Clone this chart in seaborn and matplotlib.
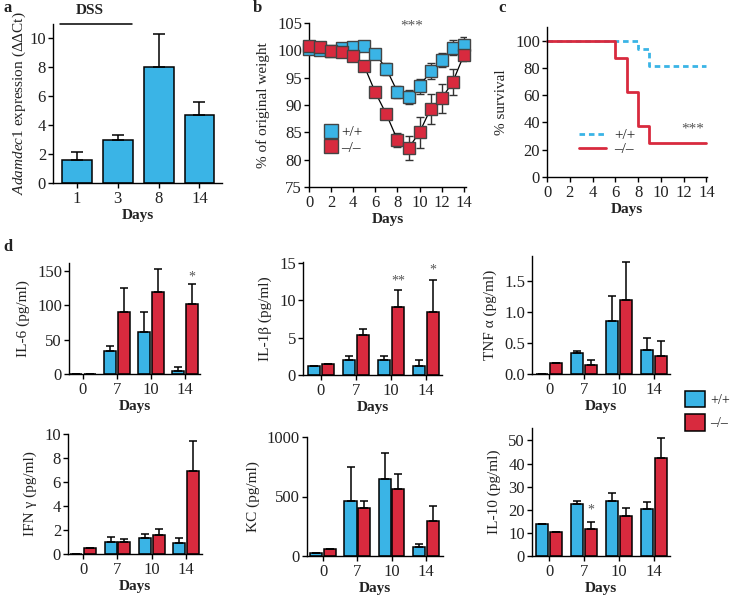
import pandas as pd
import seaborn as sns
import matplotlib.pyplot as plt
from matplotlib.lines import Line2D
from matplotlib.patches import Patch

BLUE = "#3ab4e6"
RED = "#d82a3e"
INK = "#222222"

# ---- panel a: Adamdec1 expression ----
a_days = ["1", "3", "8", "14"]
a_expr = [1.6, 3.0, 8.0, 4.7]
a_err = [0.55, 0.35, 2.3, 0.9]

# ---- panel b: weight curves ----
b_days = list(range(15))
b_wt = [100.2, 100.1, 99.9, 100.5, 100.6, 100.8, 99.4, 96.6, 92.4, 91.5, 93.4, 96.2, 98.2, 100.5, 101.0]
b_wt_err = [0.3, 0.3, 0.3, 0.4, 0.4, 0.5, 0.8, 1.1, 1.1, 1.3, 1.35, 1.4, 1.3, 1.3, 1.5]
b_ko = [100.8, 100.6, 99.9, 99.7, 99.0, 97.1, 92.3, 88.3, 83.6, 82.1, 85.0, 89.3, 91.2, 94.2, 99.1]
b_ko_err = [0.3, 0.3, 0.3, 0.3, 0.4, 0.4, 0.8, 0.8, 1.3, 2.2, 2.8, 2.8, 2.7, 2.4, 1.0]

# ---- panel c: survival ----
c_wt_days = [0, 8, 9, 14]
c_wt = [100, 93.75, 81.25, 81.25]
c_ko_days = [0, 6, 7, 8, 9, 14]
c_ko = [100, 87.5, 62.5, 37.5, 25, 25]

# ---- panel d: cytokines ----
d_days = ["0", "7", "10", "14"]
il6_wt, il6_wt_err = [0, 33, 61, 5], [0, 7.5, 29, 5]
il6_ko, il6_ko_err = [0, 91, 119, 102], [0, 34, 34, 29]
il1b_wt, il1b_wt_err = [1.2, 1.95, 1.95, 1.2], [0, 0.55, 0.55, 0.8]
il1b_ko, il1b_ko_err = [1.46, 5.4, 9.05, 8.4], [0, 0.8, 2.25, 4.3]
tnf_wt, tnf_wt_err = [0, 0.34, 0.85, 0.39], [0, 0.04, 0.41, 0.2]
tnf_ko, tnf_ko_err = [0.18, 0.14, 1.2, 0.285], [0, 0.08, 0.61, 0.245]
ifn_wt, ifn_wt_err = [0, 0.99, 1.3, 0.93], [0, 0.39, 0.33, 0.42]
ifn_ko, ifn_ko_err = [0.5, 1.04, 1.6, 6.9], [0, 0.23, 0.5, 2.54]
kc_wt, kc_wt_err = [28, 458, 646, 73], [0, 286, 219, 28]
kc_ko, kc_ko_err = [56, 404, 562, 292], [0, 54, 129, 124]
il10_wt, il10_wt_err = [13.9, 22.5, 23.6, 20.2], [0, 1.1, 3.7, 3.1]
il10_ko, il10_ko_err = [10.3, 11.6, 17.3, 42.3], [0, 3.1, 3.4, 8.7]

sns.set_style("ticks")
plt.rcParams["font.family"] = ["Liberation Serif", "DejaVu Serif"]
plt.rcParams["mathtext.fontset"] = "custom"
plt.rcParams["mathtext.rm"] = "Liberation Serif"
plt.rcParams["mathtext.it"] = "Liberation Serif:italic"
plt.rcParams["axes.linewidth"] = 1.0
plt.rcParams["axes.edgecolor"] = "black"
plt.rcParams["xtick.color"] = "black"
plt.rcParams["ytick.color"] = "black"
plt.rcParams["xtick.labelcolor"] = INK
plt.rcParams["ytick.labelcolor"] = INK
plt.rcParams["xtick.major.width"] = 1.0
plt.rcParams["ytick.major.width"] = 1.0
plt.rcParams["xtick.major.size"] = 3.5
plt.rcParams["ytick.major.size"] = 3.5
plt.rcParams["xtick.major.pad"] = 2.0
plt.rcParams["ytick.major.pad"] = 1.5
plt.rcParams["xtick.labelsize"] = 12
plt.rcParams["ytick.labelsize"] = 12
plt.rcParams["axes.labelcolor"] = INK

W, H = 731, 597
fig = plt.figure(figsize=(W / 100, H / 100), dpi=100)


def box(l, r, t, b):
    return [l / W, 1 - b / H, (r - l) / W, (b - t) / H]


def days_label(ax):
    ax.set_xlabel("Days", fontsize=11, fontweight="bold", color=INK, labelpad=1.5)


# ---------- a ----------
ax = fig.add_axes(box(53, 222, 24, 183))
sns.barplot(x=a_days, y=a_expr, color=BLUE, edgecolor="black", linewidth=1.1,
            width=0.73, errorbar=None, saturation=1, ax=ax)
bars = sorted(ax.patches, key=lambda p: p.get_x())
ax.errorbar([p.get_x() + p.get_width() / 2 for p in bars], [p.get_height() for p in bars],
            yerr=[[0] * len(bars), a_err], fmt="none", ecolor="black", elinewidth=1.1,
            capsize=4, capthick=1.1, zorder=1)
ax.set_xlim(-0.58, 3.55)
ax.set_ylim(0, 11)
ax.set_yticks([0, 2, 4, 6, 8, 10])
ax.set_ylabel(r"$\it{Adamdec1}$ expression (ΔΔCt)", fontsize=11)
ax.yaxis.set_label_coords((28 - 53) / 169, 0.5)
days_label(ax)
ax.plot([-0.4, 1.35], [11, 11], color="black", lw=1.1, clip_on=False)
ax.text(0.33, 11.45, "DSS", ha="center", va="bottom", fontsize=11, fontweight="bold", color=INK)
sns.despine(ax=ax)

# ---------- b ----------
ax = fig.add_axes(box(309, 466, 23, 187))
for vals, errs, col in [(b_wt, b_wt_err, BLUE), (b_ko, b_ko_err, RED)]:
    ax.errorbar(b_days, vals, yerr=errs, fmt="none", ecolor="#333333", elinewidth=1.0,
                capsize=3, capthick=1.0, zorder=2)
    sns.lineplot(x=b_days, y=vals, color="black", lw=0.9, marker="s", markersize=8.5,
                 markerfacecolor=col, markeredgecolor="#444444", markeredgewidth=1.0,
                 ax=ax, zorder=3, clip_on=False)
ax.set_xlim(0, 14.2)
ax.set_ylim(75, 105)
ax.set_xticks(range(0, 15, 2))
ax.set_yticks(range(75, 106, 5))
ax.set_ylabel("% of original weight", fontsize=11, labelpad=5)
days_label(ax)
ax.text(9.3, 104.4, "***", ha="center", va="center", fontsize=11, color="#555555")
handles = [Line2D([], [], ls="none", marker="s", markersize=10, markerfacecolor=c,
                  markeredgecolor="#444444") for c in (BLUE, RED)]
ax.legend(handles, ["+/+", "–/–"], loc="lower left", bbox_to_anchor=(0.04, 0.16),
          frameon=False, fontsize=11, handletextpad=0.1, labelspacing=0.1,
          borderaxespad=0, handlelength=1.2, labelcolor=INK)
sns.despine(ax=ax)

# ---------- c ----------
ax = fig.add_axes(box(547, 707, 27, 177))
sns.lineplot(x=c_wt_days, y=c_wt, drawstyle="steps-post", color=BLUE, lw=2.0,
             linestyle=(0, (2, 1.4)), ax=ax, clip_on=False)
sns.lineplot(x=c_ko_days, y=c_ko, drawstyle="steps-post", color=RED, lw=2.0,
             ax=ax, clip_on=False)
ax.set_xlim(0, 14.05)
ax.set_ylim(0, 110)
ax.set_xticks(range(0, 15, 2))
ax.set_yticks(range(0, 101, 20))
ax.set_ylabel("% survival", fontsize=11, labelpad=5)
days_label(ax)
ax.text(12.8, 35, "***", ha="center", va="center", fontsize=11, color="#555555")
handles = [Line2D([], [], color=BLUE, lw=2.0, ls=(0, (2, 1.4))), Line2D([], [], color=RED, lw=2.0)]
ax.legend(handles, ["+/+", "–/–"], loc="lower left", bbox_to_anchor=(0.16, 0.1),
          frameon=False, fontsize=11, handletextpad=0.5, labelspacing=0.0,
          borderaxespad=0, handlelength=1.8, labelcolor=INK)
sns.despine(ax=ax)


# ---------- d ----------
def cyto(pos, wt, wt_err, ko, ko_err, xlim, ylim, yticks, ylabel, stars, fmt=None):
    ax = fig.add_axes(box(*pos))
    df = pd.DataFrame({"day": d_days * 2, "val": wt + ko,
                       "genotype": ["+/+"] * 4 + ["–/–"] * 4})
    sns.barplot(data=df, x="day", y="val", hue="genotype", palette=[BLUE, RED],
                edgecolor="black", linewidth=1.1, width=0.8, gap=0.12, errorbar=None,
                saturation=1, legend=False, ax=ax)
    bars = sorted(ax.patches, key=lambda p: p.get_x())
    errs = [e for pair in zip(wt_err, ko_err) for e in pair]
    xs = [p.get_x() + p.get_width() / 2 for p in bars]
    hs = [p.get_height() for p in bars]
    ax.errorbar(xs, hs, yerr=[[0] * len(errs), errs], fmt="none", ecolor="black",
                elinewidth=1.1, capsize=3, capthick=1.1, zorder=1)
    for idx, txt, y in stars:
        ax.text(xs[idx], y, txt, ha="center", va="center", fontsize=10, color="#555555")
    ax.set_xlim(*xlim)
    ax.set_ylim(*ylim)
    ax.set_yticks(yticks)
    if fmt:
        ax.set_yticklabels([fmt.format(v) for v in yticks])
    ax.set_ylabel(ylabel, fontsize=11, labelpad=5)
    days_label(ax)
    sns.despine(ax=ax)
    return ax


cyto((69, 200, 263, 374), il6_wt, il6_wt_err, il6_ko, il6_ko_err, (-0.41, 3.44), (0, 162),
     [0, 50, 100, 150], "IL-6 (pg/ml)", [(7, "*", 142)])
cyto((303, 442, 262, 375), il1b_wt, il1b_wt_err, il1b_ko, il1b_ko_err, (-0.51, 3.46), (0, 15.1),
     [0, 5, 10, 15], "IL-1β (pg/ml)", [(5, "**", 12.5), (7, "*", 14.0)])
cyto((532, 670, 256, 374), tnf_wt, tnf_wt_err, tnf_ko, tnf_ko_err, (-0.49, 3.46), (0, 1.91),
     [0, 0.5, 1.0, 1.5], "TNF α (pg/ml)", [], fmt="{:.1f}")
cyto((68, 202, 434, 554), ifn_wt, ifn_wt_err, ifn_ko, ifn_ko_err, (-0.44, 3.46), (0, 10),
     [0, 2, 4, 6, 8, 10], "IFN γ (pg/ml)", [])
cyto((307, 443, 437, 556), kc_wt, kc_wt_err, kc_ko, kc_ko_err, (-0.47, 3.5), (0, 1000),
     [0, 500, 1000], "KC (pg/ml)", [])
cyto((532, 670, 428, 556), il10_wt, il10_wt_err, il10_ko, il10_ko_err, (-0.49, 3.46), (0, 55.4),
     [0, 10, 20, 30, 40, 50], "IL-10 (pg/ml)", [(3, "*", 19.7)])

fig.legend([Patch(facecolor=BLUE, edgecolor="black", lw=1.1), Patch(facecolor=RED, edgecolor="black", lw=1.1)],
           ["+/+", "–/–"], loc="upper left", bbox_to_anchor=(685 / W, 1 - 391 / H),
           frameon=False, fontsize=10, handlelength=1.45, handleheight=1.45,
           labelspacing=0.5, handletextpad=0.35, borderaxespad=0, borderpad=0, labelcolor=INK)

for lbl, x, y in [("a", 4, 8), ("b", 253, 8), ("c", 498, 8), ("d", 3, 247)]:
    fig.text(x / W, 1 - y / H, lbl, fontsize=12, fontweight="bold", color=INK, va="center")

fig.savefig("out.png", dpi=100)
